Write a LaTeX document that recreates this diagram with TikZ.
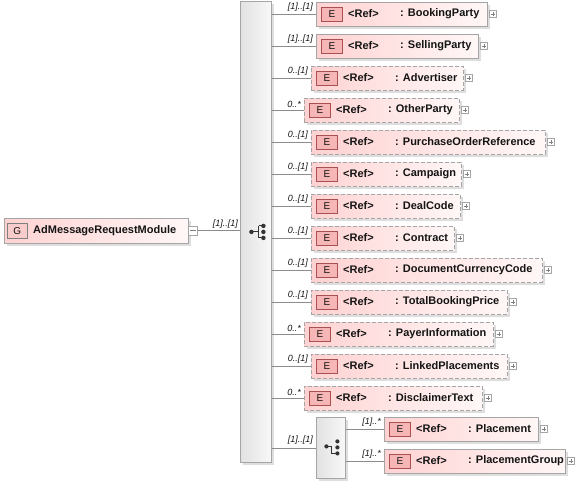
\documentclass[tikz,border=0pt]{standalone}
\usepackage{fontspec}
\setmainfont{Liberation Sans}
\definecolor{pinkL}{RGB}{255,210,210}
\definecolor{pinkR}{RGB}{255,247,247}
\definecolor{bord}{RGB}{165,165,165}
\definecolor{ebfill}{RGB}{246,182,182}
\definecolor{ebbord}{RGB}{170,80,80}
\definecolor{shad}{RGB}{222,222,222}
\definecolor{seqL}{RGB}{226,226,226}
\definecolor{seqR}{RGB}{248,248,248}
\definecolor{txt}{RGB}{20,20,20}
\definecolor{conncol}{RGB}{140,140,140}
\tikzset{
  elem/.style={draw=bord, line width=0.8pt, left color=pinkL, right color=pinkR, inner sep=0pt, minimum height=24pt},
  optelem/.style={elem, dash pattern=on 4pt off 2pt},
  ebox/.style={draw=ebbord, line width=0.7pt, fill=ebfill, minimum width=21pt, minimum height=14pt, inner sep=0pt, text=txt, font=\fontsize{10}{10}\selectfont},
  gbox/.style={draw=gray, line width=0.7pt, fill=ebfill!70, minimum width=20pt, minimum height=15pt, inner sep=0pt, text=txt, font=\fontsize{10}{10}\selectfont},
  nametext/.style={inner sep=0pt, text=txt, font=\fontsize{11}{13}\selectfont\bfseries},
  reftext/.style={inner sep=0pt, text=txt, font=\fontsize{11}{13}\selectfont\bfseries},
  card/.style={inner sep=0pt, text=txt, font=\fontsize{9}{10}\selectfont\itshape},
  plusbox/.style={draw=bord, fill=white, line width=0.6pt, minimum width=7pt, minimum height=7pt, inner sep=0pt},
  seqbar/.style={draw=bord, line width=0.8pt, left color=seqL, right color=seqR, inner sep=0pt},
  conn/.style={draw=conncol, line width=0.7pt},
  icon/.style={draw=black!80, line width=1pt},
  icondot/.style={fill=black!80},
}
\begin{document}
\begin{tikzpicture}[x=1pt,y=-1pt]
\useasboundingbox (0,0) rectangle (582,482);
% root group node
\fill[shad] (7,221) rectangle (191,246);
\node[elem, minimum width=184pt, minimum height=25pt, anchor=north west] (root) at (4,218) {};
\node[gbox, anchor=north west] (rootg) at (7,223) {G};
\node[nametext, anchor=west] (roottxt) at (33,230.5) {AdMessageRequestModule};
\node[plusbox, minimum width=9pt, minimum height=9pt, anchor=west] (rootm) at (188,230.5) {};
\draw[draw=gray, line width=0.6pt] ([xshift=2pt]rootm.west) -- ([xshift=-2pt]rootm.east);
% sequence bar
\fill[shad] (243,4) rectangle (274,465);
\node[seqbar, minimum width=31pt, minimum height=461pt, anchor=north west] (seq) at (240,1) {};
\draw[conn] (rootm.east) -- (seq.west |- rootm.east);
\node[card, anchor=south east] (rootc) at (238,229) {[1]..[1]};
% sequence icon
\begin{scope}[shift={(seq.center)}]
  \draw[icon] (-4.5,0) -- (3,0) (3,-6) -- (3,6) (3,-6) -- (7.5,-6) (3,6) -- (7.5,6);
  \fill[icondot] (-4.5,0) circle (2.2) (7.5,-6) circle (2.2) (7.5,0) circle (2.2) (7.5,6) circle (2.2);
\end{scope}
% children
\foreach \i/\nm/\l/\r/\lab/\st in {
  0/BookingParty/316/487/{[1]..[1]}/elem,
  1/SellingParty/316/478/{[1]..[1]}/elem,
  2/Advertiser/311/463/{0..[1]}/optelem,
  3/OtherParty/304/459/{0..*}/optelem,
  4/PurchaseOrderReference/311/545/{0..[1]}/optelem,
  5/Campaign/311/461/{0..[1]}/optelem,
  6/DealCode/311/460/{0..[1]}/optelem,
  7/Contract/311/454/{0..[1]}/optelem,
  8/DocumentCurrencyCode/311/542/{0..[1]}/optelem,
  9/TotalBookingPrice/311/507/{0..[1]}/optelem,
  10/PayerInformation/304/493/{0..*}/optelem,
  11/LinkedPlacements/311/507/{0..[1]}/optelem,
  12/DisclaimerText/304/482/{0..*}/optelem}{
  \pgfmathsetmacro\yy{14+32*\i}
  \pgfmathsetmacro\ww{\r-\l}
  \fill[shad] (\l+3,\yy-9) rectangle (\r+3,\yy+15);
  \node[\st, minimum width=\ww pt, anchor=west] (n\i) at (\l,\yy) {};
  \node[ebox, anchor=west] (e\i) at (\l+5,\yy+0.5) {E};
  \node[reftext, anchor=west] (r\i) at (\l+32,\yy) {<Ref>};
  \node[nametext, anchor=west] (t\i) at (\l+84,\yy) {: \nm};
  \node[plusbox, anchor=west] (p\i) at (\r+2,\yy) {};
  \draw[draw=gray, line width=0.5pt] ([xshift=1.5pt]p\i.west) -- ([xshift=-1.5pt]p\i.east) ([yshift=1.5pt]p\i.south) -- ([yshift=-1.5pt]p\i.north);
  \draw[conn] (seq.east |- n\i.west) -- (n\i.west);
  \node[card, anchor=south east] (c\i) at (\l-3,\yy-2) {\lab};
}
% choice
\fill[shad] (319,420) rectangle (348,481);
\node[seqbar, minimum width=29pt, minimum height=61pt, anchor=north west] (ch) at (316,417) {};
\draw[conn] (seq.east |- ch.west) -- (ch.west);
\node[card, anchor=south east] (chc) at (313,445) {[1]..[1]};
\begin{scope}[shift={(ch.center)}]
  \draw[icon] (-4.5,-1.5) -- (0.5,-1.5) -- (0.5,5.5) -- (6.5,5.5);
  \fill[icondot] (-4.5,-1.5) circle (2.1) (6.5,-6.5) circle (2.1) (6.5,-0.5) circle (2.1) (6.5,5.5) circle (2.1);
\end{scope}
\foreach \j/\nm/\l/\r/\yy in {0/Placement/384/538/429, 1/PlacementGroup/384/565/461}{
  \pgfmathsetmacro\ww{\r-\l}
  \fill[shad] (\l+3,\yy-9) rectangle (\r+3,\yy+15);
  \node[elem, minimum width=\ww pt, anchor=west] (m\j) at (\l,\yy) {};
  \node[ebox, anchor=west] (me\j) at (\l+5,\yy+0.5) {E};
  \node[reftext, anchor=west] (mr\j) at (\l+32,\yy) {<Ref>};
  \node[nametext, anchor=west] (mt\j) at (\l+84,\yy) {: \nm};
  \node[plusbox, anchor=west] (mp\j) at (\r+2,\yy) {};
  \draw[draw=gray, line width=0.5pt] ([xshift=1.5pt]mp\j.west) -- ([xshift=-1.5pt]mp\j.east) ([yshift=1.5pt]mp\j.south) -- ([yshift=-1.5pt]mp\j.north);
  \draw[conn] (ch.east |- m\j.west) -- (m\j.west);
  \node[card, anchor=south east] (mc\j) at (\l-3,\yy-2) {[1]..*};
}
\end{tikzpicture}
\end{document}
